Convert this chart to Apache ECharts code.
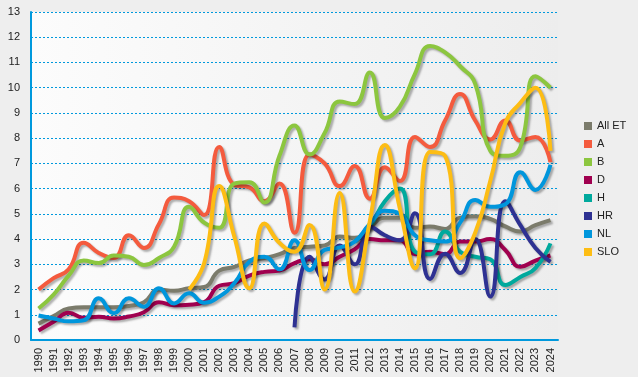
<!DOCTYPE html>
<html>
<head>
<meta charset="utf-8">
<script src="https://cdn.jsdelivr.net/npm/echarts@6/dist/echarts.min.js"></script>
<style>
  html, body { margin: 0; padding: 0; background: #eeeeee; }
  #chart { width: 638px; height: 377px; }
</style>
</head>
<body>
<div id="chart"></div>
<script>
const years = ['1990','1991','1992','1993','1994','1995','1996','1997','1998','1999','2000','2001','2002','2003','2004','2005','2006','2007','2008','2009','2010','2011','2012','2013','2014','2015','2016','2017','2018','2019','2020','2021','2022','2023','2024']

const allEt = [0.65,0.95,1.25,1.3,1.3,1.3,1.35,1.5,2.0,1.95,2.05,2.1,2.75,2.9,3.15,3.25,3.4,3.65,3.7,3.75,4.1,4.05,4.45,4.85,4.85,4.45,4.5,4.4,4.85,4.9,4.8,4.5,4.3,4.55,4.75]
const a = [2.0,2.45,2.8,3.85,3.45,3.25,4.15,3.65,4.6,5.65,5.5,4.95,7.65,6.15,6.05,5.5,6.2,4.25,7.35,7.0,6.1,6.9,5.6,6.85,6.3,8.05,7.65,8.7,9.75,8.7,7.95,8.7,7.9,8.05,7.05]
const b = [1.25,1.8,2.55,3.15,3.05,3.35,3.3,2.97,3.25,3.7,5.28,4.65,4.45,6.2,6.25,5.45,7.3,8.5,7.35,8.2,9.45,9.35,10.6,8.8,9.25,10.55,11.65,11.4,10.85,10.15,7.5,7.3,7.65,10.45,10.0]
const d = [0.38,0.72,1.08,0.88,0.92,0.85,0.93,1.1,1.5,1.38,1.4,1.5,2.15,2.25,2.55,2.7,2.75,3.05,3.2,3.0,3.3,3.6,4.0,3.95,3.95,3.4,3.5,3.4,3.9,3.9,4.0,3.57,2.9,3.15,3.35]
const h = [null,null,null,null,null,null,null,null,null,null,null,null,null,null,null,null,null,null,null,null,null,3.9,4.5,5.5,6.0,3.5,3.4,4.3,3.5,3.3,3.2,2.18,2.5,2.85,3.83]
const hr = [null,null,null,null,null,null,null,null,null,null,null,null,null,null,null,null,null,0.5,3.3,2.4,3.75,3.0,4.5,4.15,3.95,5.02,2.42,3.42,2.66,4.0,1.72,5.5,4.55,3.65,3.1]
const nl = [0.97,0.85,0.74,0.78,1.65,1.06,1.65,1.32,2.05,1.45,1.85,1.48,1.72,2.25,3.1,3.3,2.8,3.95,2.77,3.57,3.67,3.9,4.6,5.12,5.0,4.15,3.95,3.9,4.65,5.55,5.28,5.38,6.65,5.95,6.95]
const slo = [null,null,null,null,null,null,null,null,null,null,2.0,3.05,6.1,4.1,2.05,4.62,3.85,3.5,4.56,2.0,5.83,1.92,4.7,7.73,5.2,2.84,7.45,7.3,3.24,4.25,6.3,8.6,9.4,10.0,7.5]

const seriesNames = ['All ET', 'A', 'B', 'D', 'H', 'HR', 'NL', 'SLO']
const seriesData = [allEt, a, b, d, h, hr, nl, slo]
const colors = ['#7b7b6b', '#f45b3e', '#8cc63f', '#a0004f', '#00a99d', '#2e3192', '#0096dc', '#fdbd14']

const chart = echarts.init(document.getElementById('chart'))
const font = 'Liberation Sans, Arial, sans-serif'

chart.setOption({
  backgroundColor: '#eeeeee',
  animation: false,
  color: colors,
  grid: {
    left: 31, right: 80, top: 12, bottom: 37,
    show: true, borderWidth: 0,
    backgroundColor: new echarts.graphic.LinearGradient(0, 0, 1, 0, [
      { offset: 0, color: '#fcfcfc' },
      { offset: 1, color: '#ededed' }
    ])
  },
  legend: {
    orient: 'vertical',
    left: 579, top: 115,
    icon: 'rect',
    itemWidth: 8, itemHeight: 8,
    itemGap: 6,
    textStyle: { fontSize: 11, lineHeight: 12, color: '#222', fontFamily: font },
    data: seriesNames
  },
  xAxis: {
    type: 'category',
    data: years,
    boundaryGap: true,
    axisLine: { lineStyle: { color: '#0099dd', width: 2 } },
    axisTick: { alignWithLabel: true, length: 5, lineStyle: { color: '#0099dd', width: 1.5 } },
    axisLabel: { rotate: 90, interval: 0, fontSize: 11, color: '#222', fontFamily: font, margin: 8 },
    splitLine: { show: false }
  },
  yAxis: {
    type: 'value',
    min: 0, max: 13, interval: 1,
    axisLine: { show: true, lineStyle: { color: '#0099dd', width: 2 } },
    axisTick: { show: false },
    axisLabel: { fontSize: 11, color: '#222', fontFamily: font, margin: 11 },
    splitLine: { lineStyle: { color: '#0099dd', type: [2, 2], width: 1 } }
  },
  series: seriesNames.map((name, i) => ({
    name: name,
    type: 'line',
    data: seriesData[i],
    smooth: 0.5,
    showSymbol: false,
    symbol: 'none',
    connectNulls: false,
    lineStyle: {
      width: 4,
      color: colors[i],
      shadowColor: 'rgba(0,0,0,0.3)',
      shadowBlur: 2,
      shadowOffsetX: 2,
      shadowOffsetY: 2
    }
  }))
})
</script>
</body>
</html>
